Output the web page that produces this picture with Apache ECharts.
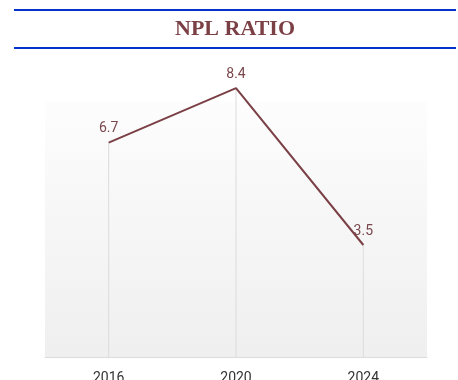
<!DOCTYPE html>
<html>
<head>
<meta charset="utf-8">
<style>
  html, body { margin: 0; padding: 0; background: #ffffff; }
  #chart { width: 458px; height: 380px; }
</style>
<script src="https://cdn.jsdelivr.net/npm/echarts@6/dist/echarts.min.js"></script>
</head>
<body>
<div id="chart"></div>
<script>
// NPL ratio by year
const years = ['2016', '2020', '2024'];
const nplRatio = [6.7, 8.4, 3.5];
const titleText = 'NPL RATIO';

const chart = echarts.init(document.getElementById('chart'));

const lineColor = '#7a4046';
const ruleColor = '#0433c9';

chart.setOption({
  animation: false,
  graphic: [
    { type: 'line', shape: { x1: 14, y1: 10, x2: 456, y2: 10 }, style: { stroke: ruleColor, lineWidth: 2 } },
    { type: 'line', shape: { x1: 14, y1: 48, x2: 456, y2: 48 }, style: { stroke: ruleColor, lineWidth: 2 } },
    {
      type: 'text', x: 235, y: 29,
      style: {
        text: titleText, fill: '#7b4045',
        font: 'bold 22px "Liberation Serif", "Times New Roman", serif',
        textAlign: 'center', textVerticalAlign: 'middle'
      }
    }
  ],
  grid: {
    left: 45, right: 31, top: 101, bottom: 23,
    outerBoundsMode: 'none',
    containLabel: false,
    show: true, borderWidth: 0,
    backgroundColor: new echarts.graphic.LinearGradient(0, 0, 0, 1, [
      { offset: 0, color: '#fdfdfd' },
      { offset: 1, color: '#efefef' }
    ])
  },
  xAxis: {
    type: 'category',
    data: years,
    boundaryGap: true,
    axisLine: { lineStyle: { color: '#dcdcdc', width: 1 } },
    axisTick: { show: false },
    axisLabel: { color: '#333333', fontFamily: 'Roboto', fontSize: 14, margin: 14 },
    splitLine: { show: false }
  },
  yAxis: {
    type: 'value',
    min: 0, max: 8,
    show: false,
    splitLine: { show: false }
  },
  series: [
    {
      // thin drop lines from each point to the axis
      type: 'bar',
      data: nplRatio,
      barWidth: 1,
      clip: false,
      itemStyle: { color: '#dcdcdc' },
      silent: true,
      z: 1
    },
    {
      type: 'line',
      data: nplRatio,
      clip: false,
      symbol: 'circle',
      symbolSize: 0,
      showSymbol: true,
      itemStyle: { color: lineColor },
      lineStyle: { color: lineColor, width: 2 },
      label: {
        show: true,
        position: 'top',
        distance: 7,
        color: '#7a474c',
        fontFamily: 'Roboto',
        fontSize: 14
      },
      z: 3
    }
  ]
});
</script>
</body>
</html>
